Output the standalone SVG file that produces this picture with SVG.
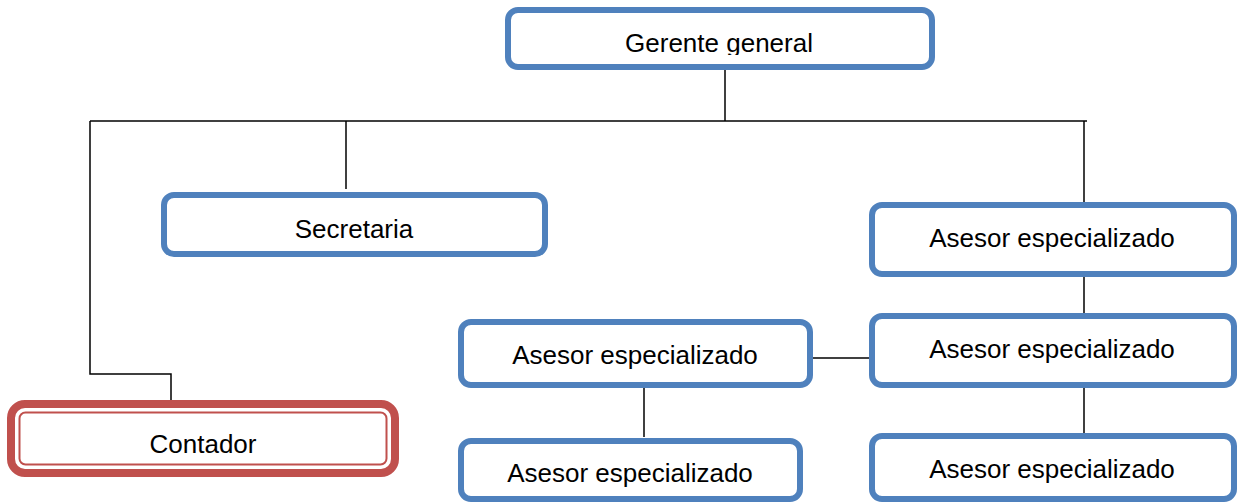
<svg xmlns="http://www.w3.org/2000/svg" width="1242" height="504" viewBox="0 0 1242 504">
  <style>
    .box { fill: #ffffff; stroke: #4f81bd; stroke-width: 6; }
    .red-outer { fill: #ffffff; stroke: #c0504d; stroke-width: 8; }
    .red-inner { fill: none; stroke: #c0504d; stroke-width: 2; }
    .lbl { font-family: "Liberation Sans", Arial, sans-serif; font-size: 26px; fill: #000000; text-anchor: middle; }
    .conn { fill: none; stroke: #000000; stroke-width: 1.5; }
  </style>
  <defs>
    <clipPath id="clipTop">
      <rect x="508" y="10" width="424" height="45"/>
    </clipPath>
  </defs>

  <g id="connectors">
    <line class="conn" x1="725" y1="70" x2="725" y2="121"/>
    <line class="conn" x1="90" y1="121" x2="1087" y2="121"/>
    <line class="conn" x1="346" y1="121" x2="346" y2="189"/>
    <polyline class="conn" points="90,121 90,374 171,374 171,404"/>
    <line class="conn" x1="1084" y1="121" x2="1084" y2="203"/>
    <line class="conn" x1="1084" y1="276" x2="1084" y2="314"/>
    <line class="conn" x1="1084" y1="387" x2="1084" y2="434"/>
    <line class="conn" x1="811" y1="358" x2="871" y2="358"/>
    <line class="conn" x1="644" y1="387" x2="644" y2="437"/>
  </g>

  <g id="gerente">
    <rect class="box" x="508" y="10" width="424" height="57" rx="10"/>
    <text class="lbl" x="719" y="52" clip-path="url(#clipTop)">Gerente general</text>
  </g>

  <g id="secretaria">
    <rect class="box" x="164" y="195" width="381" height="59" rx="10"/>
    <text class="lbl" x="354" y="238">Secretaria</text>
  </g>

  <g id="contador">
    <rect class="red-outer" x="11" y="404" width="384" height="69" rx="14"/>
    <rect class="red-inner" x="19.5" y="412.5" width="367" height="52" rx="6"/>
    <text class="lbl" x="203" y="453">Contador</text>
  </g>

  <g id="asesor-r1">
    <rect class="box" x="872" y="205" width="362" height="69" rx="10"/>
    <text class="lbl" x="1052" y="247">Asesor especializado</text>
  </g>

  <g id="asesor-r2">
    <rect class="box" x="872" y="316" width="362" height="69" rx="10"/>
    <text class="lbl" x="1052" y="358">Asesor especializado</text>
  </g>

  <g id="asesor-r3">
    <rect class="box" x="872" y="436" width="362" height="63" rx="10"/>
    <text class="lbl" x="1052" y="478">Asesor especializado</text>
  </g>

  <g id="asesor-m1">
    <rect class="box" x="461" y="322" width="349" height="63" rx="10"/>
    <text class="lbl" x="635" y="364">Asesor especializado</text>
  </g>

  <g id="asesor-m2">
    <rect class="box" x="461" y="441" width="339" height="58" rx="10"/>
    <text class="lbl" x="630" y="482">Asesor especializado</text>
  </g>
</svg>
